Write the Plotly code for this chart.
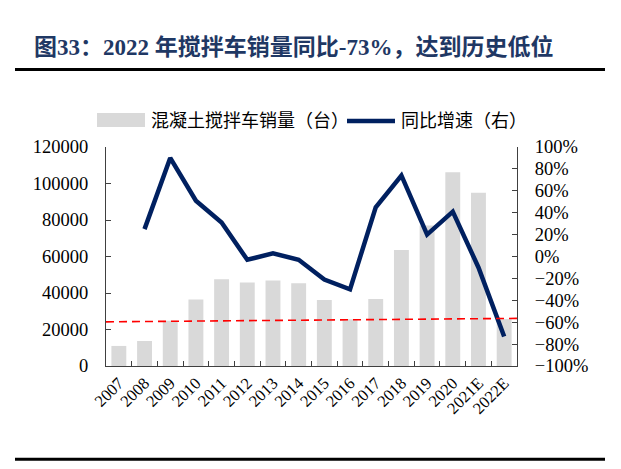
import plotly.graph_objects as go

years = ["2007", "2008", "2009", "2010", "2011", "2012", "2013", "2014",
         "2015", "2016", "2017", "2018", "2019", "2020", "2021E", "2022E"]
sales = [11000, 13700, 24800, 36500, 47500, 45800, 46900, 45300,
         36200, 25600, 36700, 63500, 77000, 106100, 95000, 25700]
growth = [None, 25, 90, 51, 31, -3, 3, -3,
          -21, -30, 45, 74, 20, 41, -10, -73]
ref_line = [24200, 26100]  # dashed reference level, left -> right

OFF = 8  # default page body margin
W, H = 621 - OFF, 469 - OFF
# plot area in page pixels
PX0, PX1, PY0, PY1 = 106, 517, 147, 366
L, R, T, B = PX0 - OFF, 621 - PX1, PY0 - OFF, 469 - PY1
pw, ph = PX1 - PX0, PY1 - PY0

def px(x):
    return (x - PX0) / pw

def py(y):
    return (PY1 - y) / ph

SERIF = "Liberation Serif, Noto Sans CJK SC, serif"
NAVY = "#002060"
GRAY = "#D9D9D9"

fig = go.Figure()
fig.add_trace(go.Bar(x=years, y=sales, marker_color=GRAY, width=0.58,
                     marker_line_width=0, name="混凝土搅拌车销量（台）",
                     showlegend=False))
fig.add_trace(go.Scatter(x=years, y=growth, yaxis="y2", mode="lines",
                         line=dict(color=NAVY, width=4.5), name="同比增速（右）",
                         showlegend=False))

shapes = [
    dict(type="line", xref="x", yref="y", x0=-0.5, x1=15.5,
         y0=ref_line[0], y1=ref_line[1],
         line=dict(color="#FF0000", width=1.6, dash="8px,5px")),
    dict(type="line", xref="paper", yref="paper", x0=px(15), x1=px(605),
         y0=py(69.6), y1=py(69.6), line=dict(color="black", width=3)),
    dict(type="line", xref="paper", yref="paper", x0=px(15), x1=px(605),
         y0=py(459.3), y1=py(459.3), line=dict(color="black", width=3)),
    # legend symbols
    dict(type="rect", xref="paper", yref="paper", x0=px(97), x1=px(145),
         y0=py(127), y1=py(113), fillcolor=GRAY, line=dict(width=0)),
    dict(type="line", xref="paper", yref="paper", x0=px(347), x1=px(395),
         y0=py(121), y1=py(121), line=dict(color=NAVY, width=4.5)),
]

annotations = [
    dict(text="<b>图33：2022 年搅拌车销量同比-73%，达到历史低位</b>",
         xref="paper", yref="paper", x=px(32), y=py(47), xanchor="left",
         yanchor="middle", showarrow=False,
         font=dict(family=SERIF, size=23, color="#1F3864")),
    dict(text="混凝土搅拌车销量（台）", xref="paper", yref="paper",
         x=px(149), y=py(121), xanchor="left", yanchor="middle",
         showarrow=False, font=dict(family=SERIF, size=18, color="black")),
    dict(text="同比增速（右）", xref="paper", yref="paper",
         x=px(399), y=py(121), xanchor="left", yanchor="middle",
         showarrow=False, font=dict(family=SERIF, size=18, color="black")),
]

fig.update_layout(
    width=W, height=H,
    margin=dict(l=L, r=R, t=T, b=B),
    paper_bgcolor="white", plot_bgcolor="white",
    showlegend=False,
    shapes=shapes,
    annotations=annotations,
    xaxis=dict(type="category", showline=True, linecolor="#404040", linewidth=1.2,
               ticks="inside", tickson="boundaries", ticklen=5, tickcolor="#404040",
               tickangle=-45, tickfont=dict(family=SERIF, size=16.5, color="black"),
               showgrid=False, zeroline=False, range=[-0.5, 15.5]),
    yaxis=dict(range=[0, 120000], dtick=20000, showline=True, linecolor="#404040",
               linewidth=1.2, ticks="inside", ticklen=5, tickcolor="#404040",
               showgrid=False, zeroline=False, tickformat="d",
               ticklabelstandoff=13,
               tickfont=dict(family=SERIF, size=18.5, color="black")),
    yaxis2=dict(range=[-100, 100], dtick=20, overlaying="y", side="right",
                showline=True, linecolor="#404040", linewidth=1.2, ticks="inside",
                ticklen=5, tickcolor="#404040", showgrid=False, zeroline=False,
                ticksuffix="%", ticklabelstandoff=13,
                tickfont=dict(family=SERIF, size=18.5, color="black")),
)

fig.write_html("out.html")
